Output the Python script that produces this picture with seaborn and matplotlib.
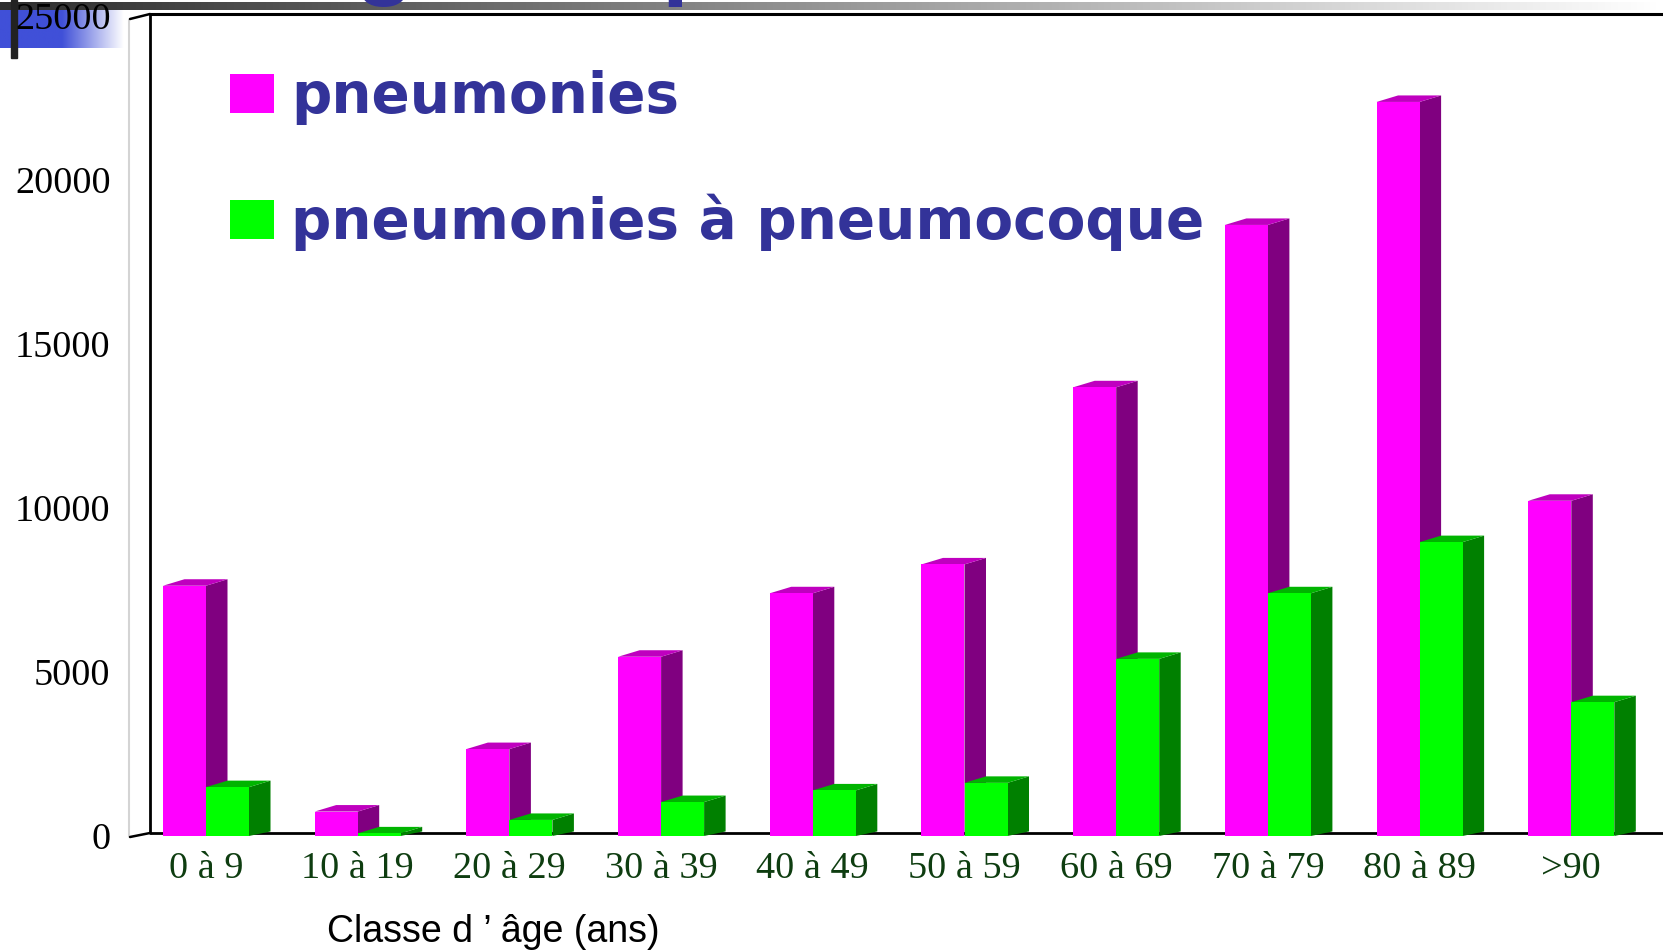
import numpy as np
import pandas as pd
import matplotlib
matplotlib.use("Agg")
import matplotlib.pyplot as plt
from matplotlib.patches import Polygon, Rectangle
from matplotlib.colors import LinearSegmentedColormap
import seaborn as sns

# ---- data ----
age_classes = ["0 à 9", "10 à 19", "20 à 29", "30 à 39", "40 à 49",
               "50 à 59", "60 à 69", "70 à 79", "80 à 89", ">90"]
pneumonies = [7630, 745, 2650, 5465, 7400, 8280, 13680, 18630, 22380, 10220]
pneumo_pneumocoque = [1490, 80, 490, 1035, 1390, 1620, 5400, 7400, 8960, 4080]
series_names = ["pneumonies", "pneumonies à pneumocoque"]
y_ticks = [0, 5000, 10000, 15000, 20000, 25000]
x_label = "Classe d ’ âge (ans)"

W, H = 1663, 950
front = {"pneumonies": "#FF00FF", "pneumonies à pneumocoque": "#00FF00"}
side = ["#800080", "#008000"]
top = ["#BF00BF", "#00B400"]

df = pd.DataFrame({
    "age": age_classes * 2,
    "n": pneumonies + pneumo_pneumocoque,
    "serie": [series_names[0]] * 10 + [series_names[1]] * 10,
})

sns.set_theme(style="white")
fig = plt.figure(figsize=(W / 100, H / 100), dpi=100, facecolor="white")

# decoration layer in pixel coordinates
deco = fig.add_axes([0, 0, 1, 1], zorder=0)
deco.set_xlim(0, W)
deco.set_ylim(H, 0)
deco.axis("off")
grey = LinearSegmentedColormap.from_list("g", ["#2e2e2e", "#ffffff"])
deco.imshow(np.linspace(0, 1, 512)[None, :], cmap=grey, extent=(0, W, 10, 2), aspect="auto", zorder=1)
blue = LinearSegmentedColormap.from_list("b", ["#4050D8", "#4050D8", "#ffffff"])
deco.imshow(np.linspace(0, 1, 256)[None, :], cmap=blue, extent=(0, 124, 48, 10), aspect="auto", zorder=1)
deco.set_xlim(0, W)
deco.set_ylim(H, 0)
deco.add_patch(Rectangle((11, 0), 6, 58, color="#222222", zorder=6))
deco.plot([150, W], [14, 14], color="black", lw=2.2, zorder=2, solid_capstyle="butt")
deco.plot([150, 150], [14, 833], color="black", lw=2.0, zorder=2)
deco.plot([150, W], [833, 833], color="black", lw=2.0, zorder=2, solid_capstyle="butt")
deco.plot([129, 129], [20, 836], color="#d4d4d4", lw=1.5, zorder=2)
deco.plot([130, 150], [19, 14], color="black", lw=1.8, zorder=2)
deco.plot([130, 150], [837, 833], color="black", lw=1.8, zorder=2)

# chopped-off title letters at the top edge
deco.text(385, 7, "g", color="#333399", fontsize=70, fontweight="bold",
          family="Liberation Sans", ha="center", va="bottom", zorder=3)
deco.text(691, 7, "p", color="#333399", fontsize=70, fontweight="bold",
          family="Liberation Sans", ha="center", va="bottom", zorder=3)

# legend
for i, (name, yy) in enumerate(zip(series_names, [74, 200])):
    deco.add_patch(Rectangle((230, yy), 44, 39, color=front[name], lw=0, zorder=3))
    deco.text(291, yy + 39, name, color="#333399", fontsize=40.7, fontweight="bold",
              family="DejaVu Sans", ha="left", va="baseline", zorder=7)

# main chart
left, right = 130, W
bottom_px, top_px = 836, 16
ax = fig.add_axes([left / W, 1 - bottom_px / H, (right - left) / W, (bottom_px - top_px) / H], zorder=2)
ax.patch.set_alpha(0)
sns.barplot(data=df, x="age", y="n", hue="serie", order=age_classes, hue_order=series_names,
            palette=front, width=0.567, gap=0, saturation=1, dodge=True, legend=False, ax=ax,
            linewidth=0, zorder=3)
spacing = 151.7
x0 = (206 - left) / spacing
ax.set_xlim(-x0, (right - left) / spacing - x0)
ax.set_ylim(0, 25000)
sns.despine(ax=ax, left=True, bottom=True, right=True, top=True)

dx = 21.5 / spacing
dy = 6.5 * 25000 / (bottom_px - top_px)
for k, cont in enumerate(ax.containers):
    z = 2 + k * 2
    for bar in cont:
        bar.set_zorder(z + 0.5)
        x1 = bar.get_x()
        x2 = x1 + bar.get_width()
        h = bar.get_height()
        ax.add_patch(Polygon([(x2, 0), (x2 + dx, dy * 0.7), (x2 + dx, h + dy), (x2, h)],
                             closed=True, fc=side[k], ec="none", zorder=z, clip_on=False))
        ax.add_patch(Polygon([(x1, h), (x1 + dx, h + dy), (x2 + dx, h + dy), (x2, h)],
                             closed=True, fc=top[k], ec="none", zorder=z, clip_on=False))

ax.set_yticks(y_ticks)
ax.set_yticklabels([str(v) for v in y_ticks], family="Liberation Serif", fontsize=27.5, color="black")
ax.tick_params(axis="y", length=0, pad=14)
ax.tick_params(axis="x", length=0, pad=11)
ax.set_xticks(range(len(age_classes)))
ax.set_xticklabels(age_classes, family="Liberation Serif", fontsize=27.5, color="#0E3D10")
ax.set_xlabel("")
ax.set_ylabel("")
deco.text(327, 932, x_label, family="Liberation Sans", fontsize=27, color="black",
          ha="left", va="center", zorder=7)

fig.savefig("out.png", dpi=100, facecolor="white")
